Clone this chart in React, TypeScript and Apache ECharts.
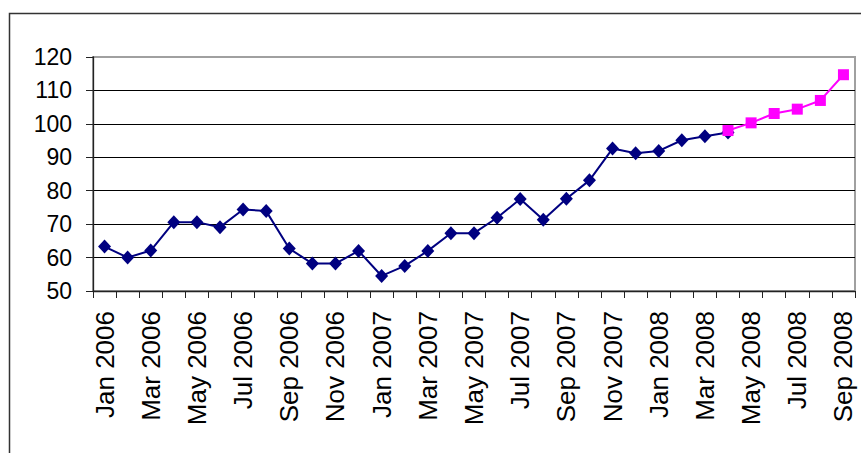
import React, { useEffect, useRef } from "react";
import * as echarts from "echarts";

const months = [
  "Jan 2006", "Feb 2006", "Mar 2006", "Apr 2006", "May 2006", "Jun 2006",
  "Jul 2006", "Aug 2006", "Sep 2006", "Oct 2006", "Nov 2006", "Dec 2006",
  "Jan 2007", "Feb 2007", "Mar 2007", "Apr 2007", "May 2007", "Jun 2007",
  "Jul 2007", "Aug 2007", "Sep 2007", "Oct 2007", "Nov 2007", "Dec 2007",
  "Jan 2008", "Feb 2008", "Mar 2008", "Apr 2008", "May 2008", "Jun 2008",
  "Jul 2008", "Aug 2008", "Sep 2008",
];

// Jan 2006 – Apr 2008
const actualValues = [
  63.3, 60.0, 62.1, 70.6, 70.6, 69.1, 74.4, 73.9, 62.7, 58.2, 58.2, 62.0,
  54.5, 57.5, 62.0, 67.3, 67.3, 71.9, 77.5, 71.3, 77.6, 83.1, 92.6, 91.2,
  91.9, 95.1, 96.3, 97.4,
];

// Apr 2008 – Sep 2008
const forecastStart = "Apr 2008";
const forecastValues = [98.0, 100.3, 103.1, 104.4, 107.0, 114.7];

const yTicks = { min: 50, max: 120, interval: 10 };

export default function App() {
  const ref = useRef<HTMLDivElement>(null);

  useEffect(() => {
    if (!ref.current) return;
    const chart = echarts.init(ref.current, null, { renderer: "svg" });

    const actualData = months.map((_, i) =>
      i < actualValues.length ? actualValues[i] : null
    );
    const startIdx = months.indexOf(forecastStart);
    const forecastData = months.map((_, i) =>
      i >= startIdx && i - startIdx < forecastValues.length
        ? forecastValues[i - startIdx]
        : null
    );

    const font = "'Liberation Sans', Arial, sans-serif";

    chart.setOption({
      animation: false,
      backgroundColor: "#ffffff",
      grid: {
        left: 93,
        top: 57,
        right: 6,
        bottom: 162,
        show: true,
        borderColor: "#a0a0a0",
        borderWidth: 2,
        backgroundColor: "transparent",
      },
      graphic: [
        {
          type: "rect",
          shape: { x: 9.5, y: 13.5, width: 900, height: 500 },
          style: { fill: "none", stroke: "#333333", lineWidth: 1.5 },
          silent: true,
          z: -1,
        },
      ],
      xAxis: {
        type: "category",
        data: months,
        boundaryGap: true,
        axisLine: { show: true, lineStyle: { color: "#222222", width: 1.3 } },
        axisTick: {
          show: true,
          interval: 0,
          length: 7,
          lineStyle: { color: "#222222", width: 1 },
        },
        axisLabel: {
          interval: 1,
          rotate: 90,
          margin: 20,
          fontSize: 26,
          color: "#000000",
          fontFamily: font,
        },
        splitLine: { show: false },
      },
      yAxis: {
        type: "value",
        min: yTicks.min,
        max: yTicks.max,
        interval: yTicks.interval,
        axisLine: { show: true, lineStyle: { color: "#222222", width: 1.3 } },
        axisTick: {
          show: true,
          length: 7,
          lineStyle: { color: "#222222", width: 1 },
        },
        axisLabel: {
          margin: 21,
          fontSize: 23,
          color: "#000000",
          fontFamily: font,
        },
        splitLine: {
          show: true,
          showMinLine: false,
          showMaxLine: false,
          lineStyle: { color: "#000000", width: 1 },
        },
      },
      series: [
        {
          name: "Actual",
          type: "line",
          data: actualData,
          symbol: "diamond",
          symbolSize: [13, 14],
          showAllSymbol: true,
          lineStyle: { color: "#000080", width: 2 },
          itemStyle: { color: "#000080" },
          z: 2,
        },
        {
          name: "Forecast",
          type: "line",
          data: forecastData,
          symbol: "rect",
          symbolSize: [11, 11],
          showAllSymbol: true,
          lineStyle: { color: "#ff00ff", width: 2 },
          itemStyle: { color: "#ff00ff" },
          z: 3,
        },
      ],
    });

    return () => chart.dispose();
  }, []);

  return (
    <div
      ref={ref}
      style={{
        position: "fixed",
        left: 0,
        top: 0,
        width: 861,
        height: 453,
        background: "#ffffff",
      }}
    />
  );
}
